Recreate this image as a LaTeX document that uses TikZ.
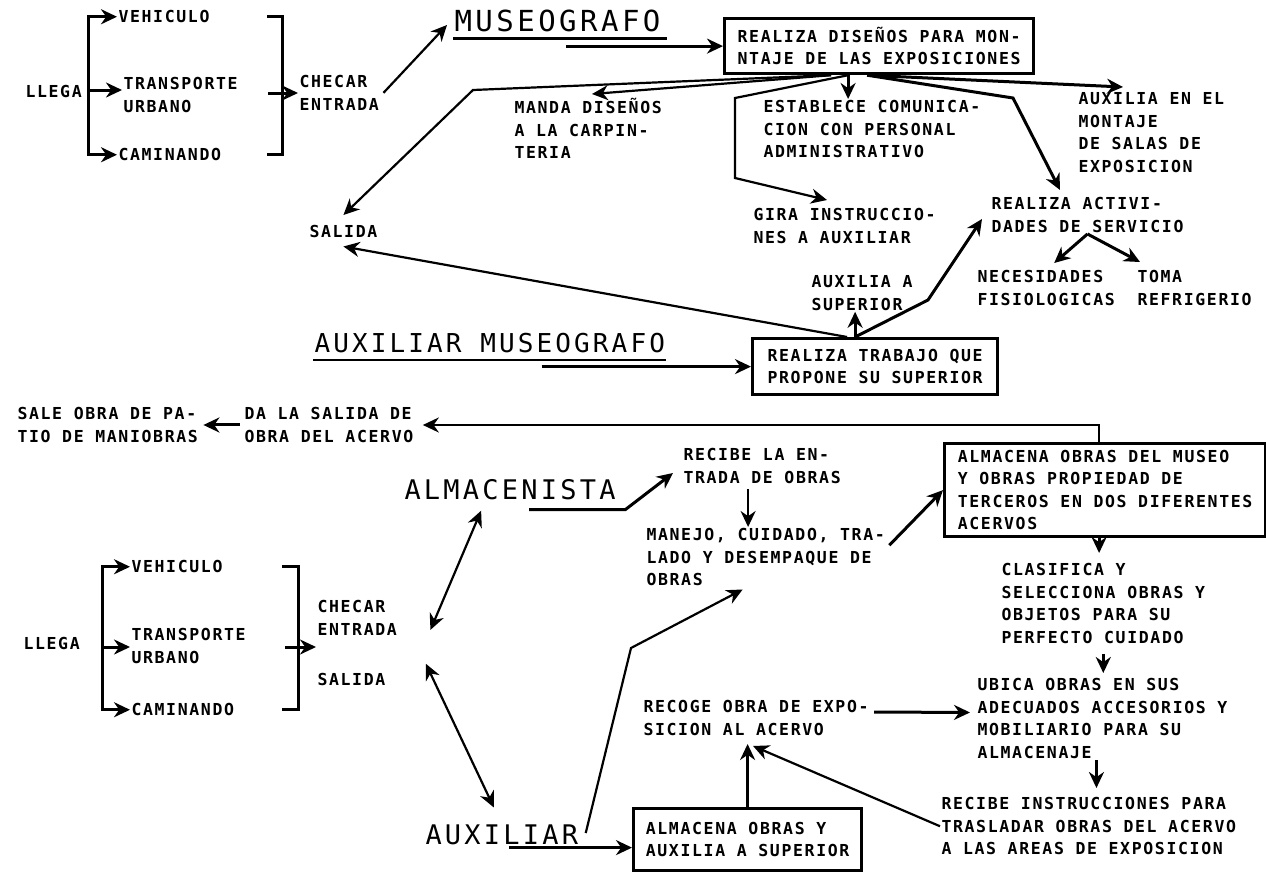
\documentclass[tikz,border=0pt]{standalone}
\usepackage{fontspec}
\usepackage{tikz}
\usetikzlibrary{arrows.meta}
\newfontfamily\bodyfont{DejaVu Sans Mono}[LetterSpace=10,BoldFont={DejaVu Sans Mono Bold}]
\newfontfamily\rolefont{DejaVu Sans Mono}[LetterSpace=12]

\begin{document}
\begin{tikzpicture}[x=1pt,y=-1pt,line width=3pt,>={Stealth[length=16pt,width=15pt]}]
      \tikzstyle{every node}=[inner sep=0pt]
      \tikzstyle{txt}=[anchor=north west,align=left,font=\bodyfont\bfseries\fontsize{16.5}{22.5}\selectfont]
      \tikzstyle{role}=[anchor=west,font=\rolefont\fontsize{27}{30}\selectfont]
      \tikzstyle{box}=[txt,draw,line width=3.2pt]
      \tikzstyle{lite}=[line width=2.2pt]
      \useasboundingbox[fill=white] (0,0) rectangle (1266,871);
      %
      % museografo
      \node [txt] (llega1) at (24,84)    {LLEGA};
      \node [txt] (veh1) at (117,9)      {VEHICULO};
      \node [txt] (tra1) at (122,76)     {TRANSPORTE\\URBANO};
      \node [txt] (cam1) at (117,147)    {CAMINANDO};
      \node [txt] (chk1) at (298,74)     {CHECAR\\ENTRADA};
      \node [role,font=\rolefont\fontsize{29}{32}\selectfont] (mus) at (453,21) {MUSEOGRAFO};
      \node [box,minimum width=309,minimum height=55] (box1) at (723,17)
            {REALIZA DISEÑOS PARA MON-\\NTAJE DE LAS EXPOSICIONES};
      \node [txt] (manda) at (513,97)    {MANDA DISEÑOS\\A LA CARPIN-\\TERIA};
      \node [txt] (estab) at (762,99)    {ESTABLECE COMUNICA-\\CION CON PERSONAL\\ADMINISTRATIVO};
      \node [txt] (auxmont) at (1077,91) {AUXILIA EN EL\\MONTAJE\\DE SALAS DE\\EXPOSICION};
      \node [txt] (salida1) at (308,224) {SALIDA};
      \node [txt] (gira) at (752,207)    {GIRA INSTRUCCIO-\\NES A AUXILIAR};
      \node [txt] (ract) at (990,196)    {REALIZA ACTIVI-\\DADES DE SERVICIO};
      \node [txt] (nec) at (976,269)     {NECESIDADES\\FISIOLOGICAS};
      \node [txt] (toma) at (1136,269)   {TOMA\\REFRIGERIO};
      \node [txt] (auxsup) at (810,274)  {AUXILIA A\\SUPERIOR};
      \node [role,font=\rolefont\fontsize{26}{30}\selectfont] (auxmus) at (313,343) {AUXILIAR MUSEOGRAFO};
      \node [box,minimum width=245,minimum height=56] (box2) at (751,337)
            {REALIZA TRABAJO QUE\\PROPONE SU SUPERIOR};
      %
      % almacenista
      \node [txt] (sale) at (16,406)     {SALE OBRA DE PA-\\TIO DE MANIOBRAS};
      \node [txt] (dasal) at (243,406)   {DA LA SALIDA DE\\OBRA DEL ACERVO};
      \node [role] (alm) at (403,490)    {ALMACENISTA};
      \node [txt] (recent) at (682,447)  {RECIBE LA EN-\\TRADA DE OBRAS};
      \node [txt] (manejo) at (645,527)  {MANEJO, CUIDADO, TRA-\\LADO Y DESEMPAQUE DE\\OBRAS};
      \node [box,minimum width=321,minimum height=93] (box3) at (943,442)
            {ALMACENA OBRAS DEL MUSEO\\Y OBRAS PROPIEDAD DE\\TERCEROS EN DOS DIFERENTES\\ACERVOS};
      \node [txt] (clas) at (1000,562)   {CLASIFICA Y\\SELECCIONA OBRAS Y\\OBJETOS PARA SU\\PERFECTO CUIDADO};
      \node [txt] (ubica) at (976,677)   {UBICA OBRAS EN SUS\\ADECUADOS ACCESORIOS Y\\MOBILIARIO PARA SU\\ALMACENAJE};
      \node [txt] (recins) at (940,796)  {RECIBE INSTRUCCIONES PARA\\TRASLADAR OBRAS DEL ACERVO\\A LAS AREAS DE EXPOSICION};
      \node [txt] (recoge) at (642,699)  {RECOGE OBRA DE EXPO-\\SICION AL ACERVO};
      \node [box,minimum width=228,minimum height=62] (box4) at (632,807)
            {ALMACENA OBRAS Y\\AUXILIA A SUPERIOR};
      \node [role] (aux) at (424,835)    {AUXILIAR};
      \node [txt] (llega2) at (22,636)   {LLEGA};
      \node [txt] (veh2) at (130,559)    {VEHICULO};
      \node [txt] (tra2) at (130,627)    {TRANSPORTE\\URBANO};
      \node [txt] (cam2) at (130,702)    {CAMINANDO};
      \node [txt] (chk2) at (316,599)    {CHECAR\\ENTRADA};
      \node [txt] (salida2) at (316,672) {SALIDA};
      %
      % brackets
      \coordinate (lb1) at (88,90);
      \coordinate (rb1) at (282,93);
      \coordinate (lb2) at (102,647);
      \coordinate (rb2) at (298,647);
      \draw [<->] (veh1.west) -| (lb1) |- (cam1.west);
      \draw ([xshift=-15pt]rb1 |- veh1.west) -| (rb1) |- ([xshift=-15pt]rb1 |- cam1.west);
      \draw [<->] (veh2.west) -| (lb2) |- (cam2.west);
      \draw ([xshift=-16pt]rb2 |- veh2.west) -| (rb2) |- ([xshift=-16pt]rb2 |- cam2.west);
      \path[->]
      (lb1)                  edge (lb1 -| tra1.west)
      ([xshift=-14pt]rb1)    edge (rb1 -| chk1.west)
      (lb2)                  edge (lb2 -| tra2.west)
      ([xshift=-13pt]rb2)    edge (rb2 -| chk2.west);
      %
      % museografo connectors
      \coordinate (j1) at ([xshift=-48pt]box1.south);
      \coordinate (j2) at ([xshift=-31pt]box1.south);
      \coordinate (j3) at ([xshift=-12pt]box1.south);
      \coordinate (k1) at (473,90);
      \coordinate (k2) at (735,98);
      \coordinate (k3) at (735,178);
      \coordinate (k4) at (1013,98);
      \draw [lite] ([yshift=-5pt]mus.south west) -- ([xshift=5pt,yshift=-5pt]mus.south east);
      \path[->]
      ([xshift=3pt]chk1.east)         edge [lite] ([xshift=-6pt,yshift=-4pt]mus.west)
      ([xshift=9pt]mus.south |- box1.west) edge (box1.west)
      (j1)                            edge [lite] ([xshift=79pt,yshift=3pt]manda.north west)
      (j2)                            edge (j2 |- estab.north)
      (j3)                            edge ([xshift=46pt,yshift=4pt]auxmont.north west);
      \draw [->,lite] (j1) -- (k1) -- ([yshift=9pt]salida1.north);
      \draw [->,lite] (j2) -- (k2) -- (k3) -- ([xshift=75pt,yshift=7pt]gira.north west);
      \draw [->] (j3) -- (k4) -- ([xshift=70pt,yshift=6pt]ract.north west);
      %
      % auxiliar museografo connectors
      \coordinate (j4) at ([xshift=-20pt]box2.north);
      \coordinate (k5) at (928,300);
      \draw [lite] ([yshift=-6pt]auxmus.south west) -- ([yshift=-6pt]auxmus.south east);
      \path[->]
      ([xshift=52pt]auxmus.south |- box2.west) edge (box2.west)
      (j4)                            edge (j4 |- auxsup.south)
      ([xshift=-8pt]j4)               edge [lite] ([yshift=-7pt]salida1.south)
      (ract.south)                    edge ([xshift=8pt,yshift=6pt]nec.north)
      (ract.south)                    edge ([xshift=4pt,yshift=7pt]toma.north west);
      \draw [->] (j4) -- (k5) -- ([xshift=-8pt,yshift=-4pt]ract.west);
      %
      % almacenista connectors
      \coordinate (k6) at (631,648);
      \draw [->,lite] ([xshift=-6pt]box3.north) |- ([xshift=8pt]dasal.east);
      \draw [->] ([xshift=-88pt,yshift=-8pt]alm.south east) -- ([xshift=8pt,yshift=-8pt]alm.south east)
                 -- ([xshift=-9pt,yshift=-7pt]recent.west);
      \draw [->,lite] ([xshift=6pt,yshift=2pt]aux.east) -- (k6) -- ([xshift=-23pt,yshift=-2pt]manejo.south);
      \path[->]
      ([xshift=-3pt]dasal.west)       edge ([xshift=4pt]sale.east)
      ([xshift=-14pt,yshift=-4pt]recent.south) edge [lite] ([xshift=-14pt]recent.south |- manejo.north)
      ([xshift=3pt,yshift=12pt]manejo.east) edge (box3.west)
      ([xshift=-6pt]box3.south)       edge ([xshift=-6pt,yshift=9pt]box3.south |- clas.north)
      ([yshift=-9pt]clas.south)       edge ([yshift=4pt]clas.south |- ubica.north)
      ([xshift=-6pt]ubica.south)      edge ([xshift=-6pt,yshift=8pt]ubica.south |- recins.north)
      ([xshift=4pt,yshift=6pt]recoge.east) edge ([xshift=-6pt,yshift=6pt]ubica.west)
      (box4.north)                    edge ([yshift=-7pt]box4.north |- recoge.south)
      (recins.west)                   edge [lite] ([xshift=-3pt,yshift=-9pt]recoge.south)
      ([xshift=7pt,yshift=-8pt]aux.south |- box4.west) edge ([yshift=-8pt]box4.west);
      \path[<->]
      ([xshift=-29pt,yshift=-9pt]alm.south) edge [lite] ([xshift=32pt,yshift=-12pt]chk2.east)
      ([xshift=39pt,yshift=16pt]salida2.east) edge [lite] ([xshift=-8pt,yshift=16pt]aux.north);
    \end{tikzpicture}
\end{document}
